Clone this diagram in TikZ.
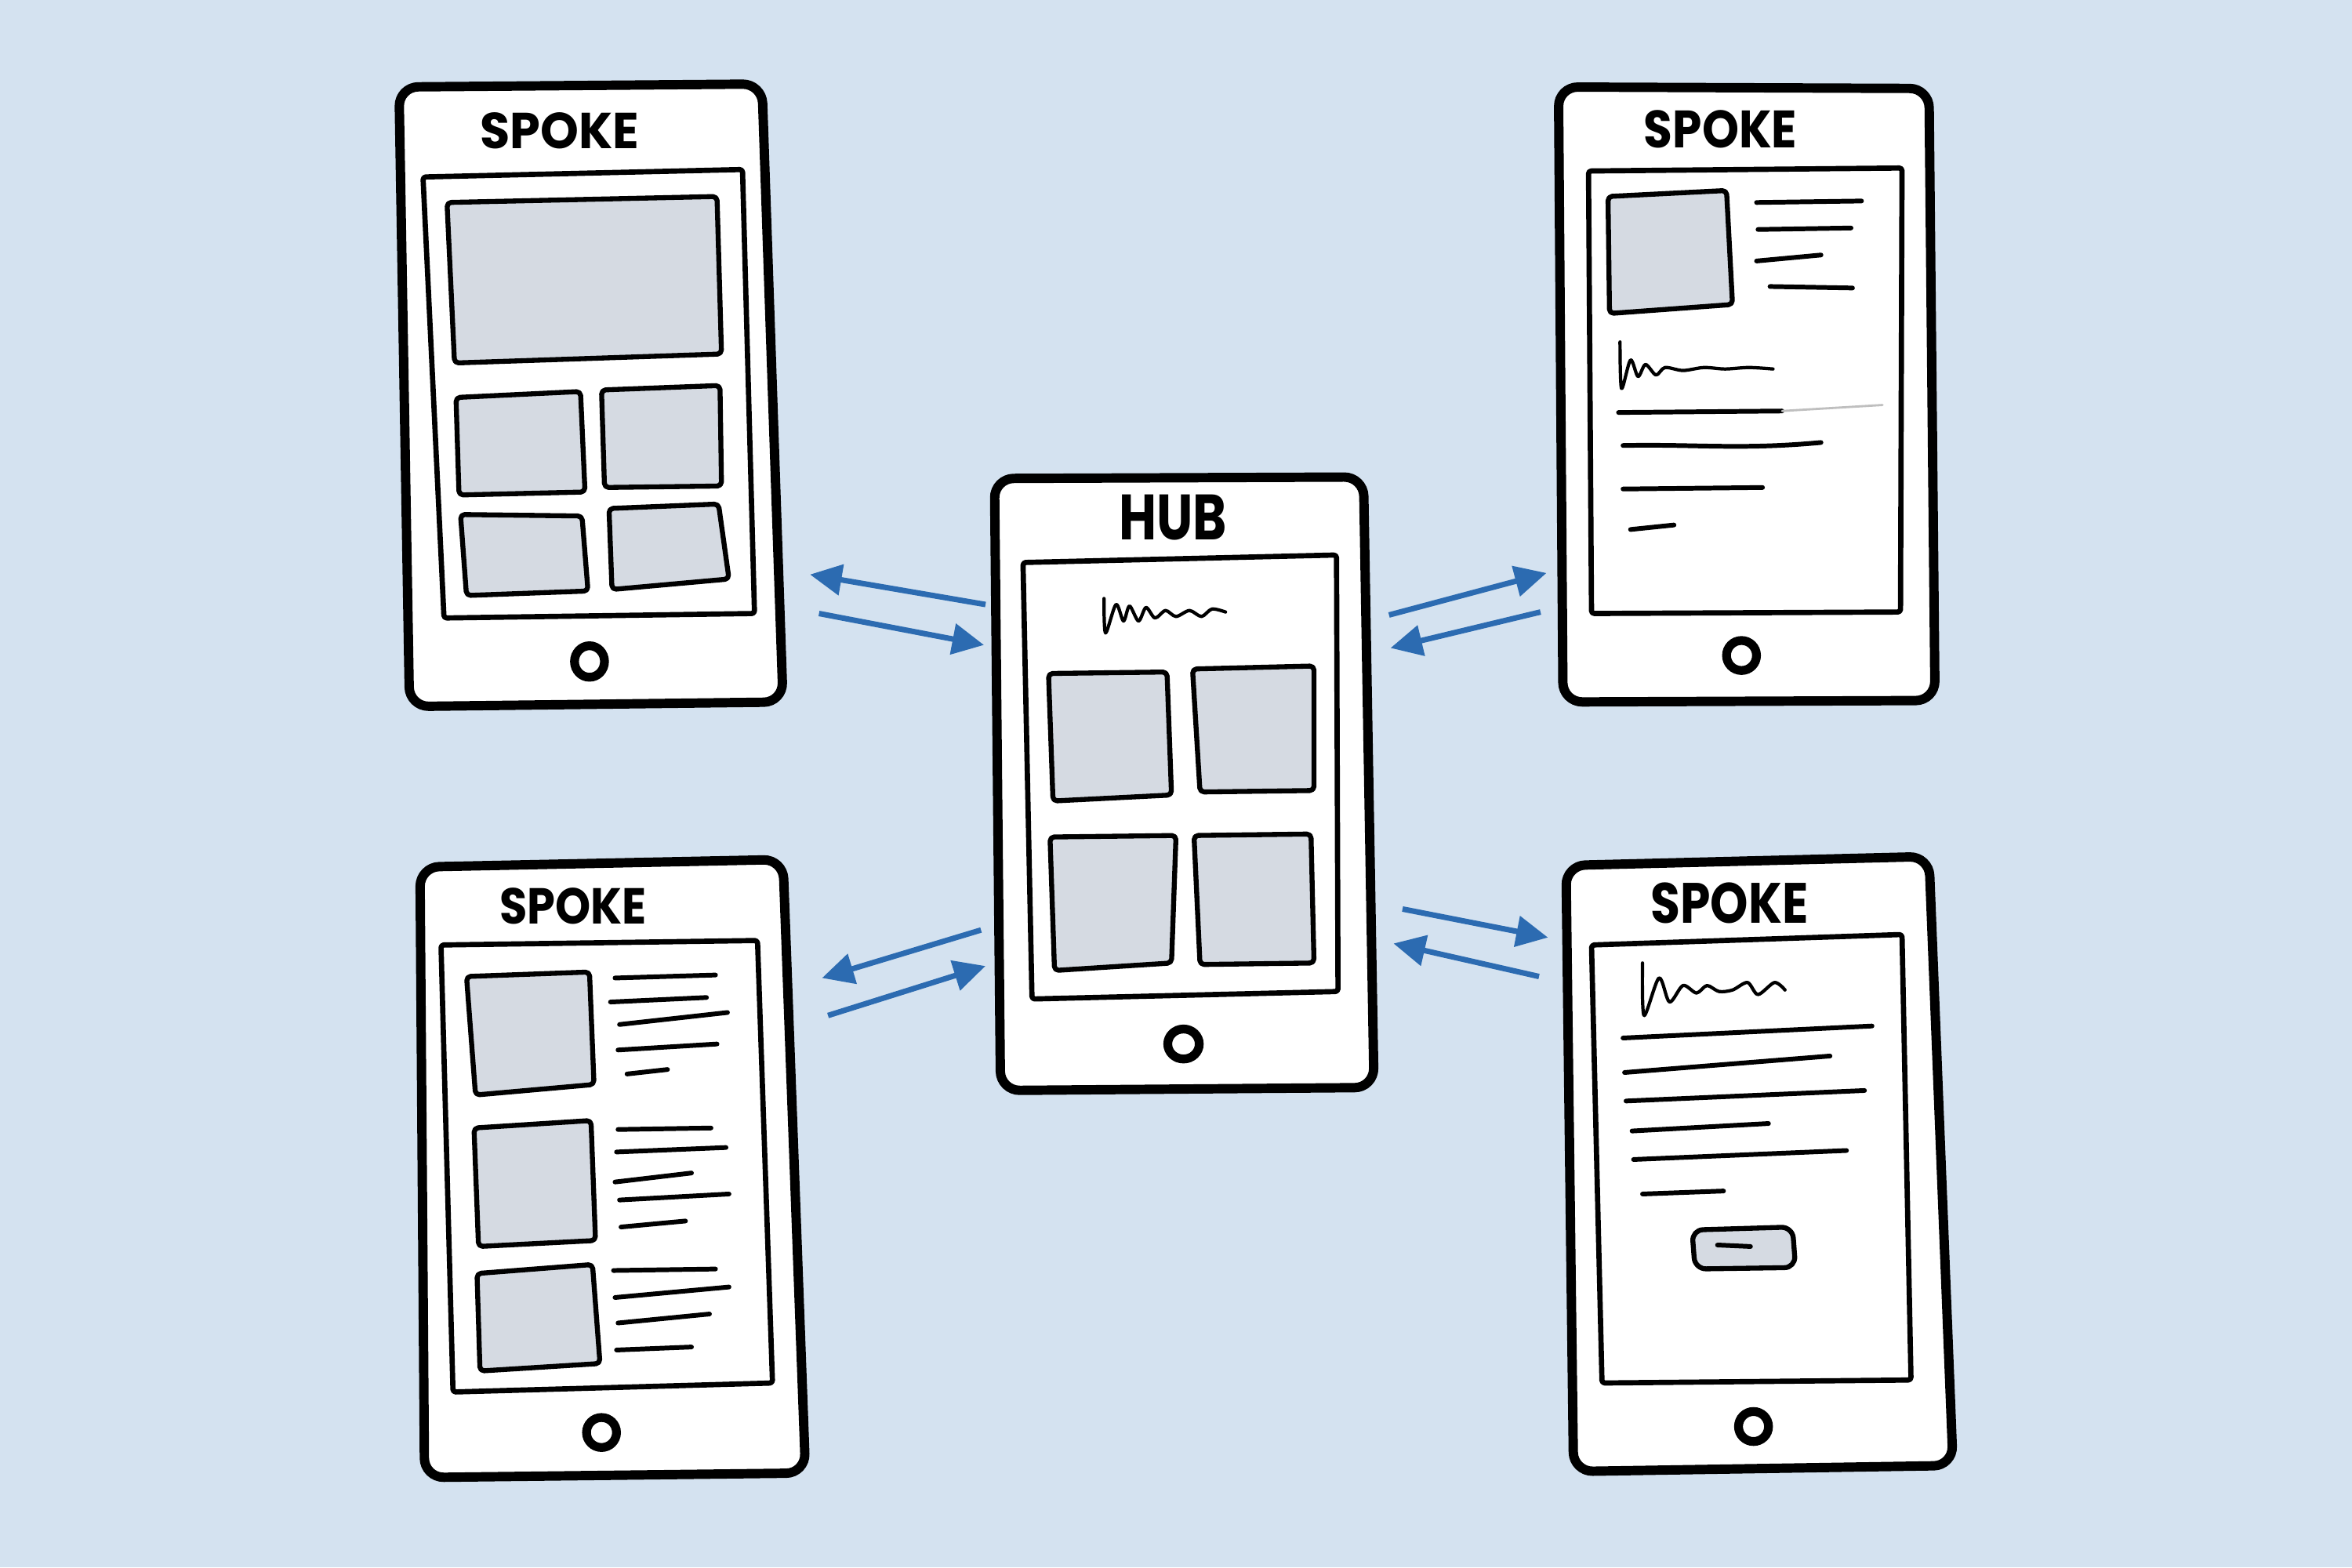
\documentclass[tikz,border=0pt]{standalone}
\usepackage{fontspec}
\usepackage{graphicx}
\usetikzlibrary{arrows.meta}
\newfontfamily\markerfont{Poppins}
\newlength\upx
\setlength\upx{0.019133cm}
\definecolor{paper}{RGB}{212,226,240}
\definecolor{tilegray}{RGB}{213,218,226}
\definecolor{flow}{RGB}{44,107,177}

\tikzset{
  frame/.style={draw=black, fill=white, line width=3.4pt, line join=round, rounded corners=7pt},
  screen/.style={draw=black, fill=white, line width=1.9pt, line join=round, rounded corners=1pt},
  tile/.style={draw=black, fill=tilegray, line width=1.8pt, line join=round, rounded corners=1.5pt},
  textline/.style={draw=black, line width=1.7pt, line cap=round},
  scribble/.style={draw=black, line width=1.2pt, line cap=round, line join=round},
  homekey/.style={draw=black, line width=3.2pt},
  title/.style={inner sep=0pt, font=\markerfont\bfseries},
  flowarrow/.style={draw=flow, line width=2pt, -{Triangle[length=11.5pt,width=11pt]}},
}

\begin{document}
\begin{tikzpicture}[x=0.019133cm, y=-0.019133cm]
\fill[paper] (0,0) rectangle (1568,1045);
\useasboundingbox (0,0) rectangle (1568,1045);

% ---------- hub ----------
\draw[frame] (663,319) -- (909,318) -- (916,725) -- (667,727) -- cycle;
\node[title] (hub-title) at (782,345) {\resizebox{72\upx}{30\upx}{HUB}};
\draw[screen] (682,375) -- (891,370) -- (892,661) -- (688,666) -- cycle;
\draw[scribble] plot[smooth, tension=0.5] coordinates {(736,399) (737,422) (744,403) (749,414) (753,404) (759,414) (764,405) (770,412) (777,407) (784,411) (793,407) (801,411) (808,406) (817,408)};
\draw[tile] (699,449) -- (778,448) -- (781,530) -- (702,534) -- cycle;
\draw[tile] (795,446) -- (876,444) -- (876,527) -- (800,528) -- cycle;
\draw[tile] (700,558) -- (784,557) -- (781,642) -- (703,647) -- cycle;
\draw[tile] (796,557) -- (874,556) -- (876,642) -- (800,643) -- cycle;
\draw[homekey] (789,696) ellipse [x radius=10.5, y radius=10];
\coordinate (hub-w1) at (657,403);
\coordinate (hub-w2) at (656,430);
\coordinate (hub-e1) at (926,410);
\coordinate (hub-e2) at (927,432);
\coordinate (hub-w3) at (654,620);
\coordinate (hub-w4) at (657,644);
\coordinate (hub-e3) at (935,606);
\coordinate (hub-e4) at (929,629);

% ---------- spoke, top left: gallery ----------
\draw[frame] (266,58) -- (508,56) -- (522,468) -- (273,471) -- cycle;
\node[title] (tl-title) at (373,87) {\resizebox{106\upx}{24\upx}{SPOKE}};
\draw[screen] (282,118) -- (495,113) -- (503,409) -- (296,412) -- cycle;
\draw[tile] (298,135) -- (478,131) -- (481,236) -- (303,242) -- cycle;
\draw[tile] (304,265) -- (387,261) -- (390,328) -- (306,330) -- cycle;
\draw[tile] (401,260) -- (480,257) -- (481,324) -- (403,325) -- cycle;
\draw[tile] (307,343) -- (388,344) -- (392,394) -- (311,397) -- cycle;
\draw[tile] (406,339) -- (479,336) -- (486,386) -- (408,393) -- cycle;
\draw[homekey] (393,441) ellipse [x radius=10, y radius=10.5];
\coordinate (tl-in) at (540,383);
\coordinate (tl-out) at (546,409);

% ---------- spoke, top right: article ----------
\draw[frame] (1039,58) -- (1286,59) -- (1290,467) -- (1042,468) -- cycle;
\node[title] (tr-title) at (1147,86) {\resizebox{102\upx}{25\upx}{SPOKE}};
\draw[screen] (1059,114) -- (1268,112) -- (1267,408) -- (1061,409) -- cycle;
\draw[tile] (1072,131) -- (1151,127) -- (1155,203) -- (1073,209) -- cycle;
\draw[textline] (1171,135) -- (1241,134);
\draw[textline] (1172,153) -- (1234,152);
\draw[textline] (1171,174) -- (1214,170);
\draw[textline] (1180,191) -- (1235,192);
\draw[scribble] plot[smooth, tension=0.5] coordinates {(1080,228) (1081,259) (1087,240) (1092,251) (1097,243) (1104,250) (1110,245) (1122,247) (1136,245) (1150,246) (1166,245) (1182,246)};
\draw[textline] (1079,275) -- (1188,274);
\draw[black!25, line width=0.8pt, line cap=round] (1188,274) -- (1255,270);
\draw[textline] (1082,297) .. controls (1130,296) and (1160,300) .. (1214,295);
\draw[textline] (1082,326) -- (1175,325);
\draw[textline] (1087,353) -- (1116,350);
\draw[homekey] (1161,437) ellipse [x radius=10, y radius=10];
\coordinate (tr-in) at (1031,382);
\coordinate (tr-out) at (1027,408);

% ---------- spoke, bottom left: list ----------
\draw[frame] (280,578) -- (522,573) -- (537,982) -- (283,985) -- cycle;
\node[title] (bl-title) at (382,604) {\resizebox{98\upx}{24\upx}{SPOKE}};
\draw[screen] (294,630) -- (505,627) -- (515,922) -- (302,928) -- cycle;
\draw[tile] (311,651) -- (393,648) -- (396,723) -- (317,730) -- cycle;
\draw[tile] (316,752) -- (394,747) -- (397,827) -- (319,831) -- cycle;
\draw[tile] (318,849) -- (395,843) -- (400,909) -- (320,914) -- cycle;
\draw[textline] (410,652) -- (477,650);
\draw[textline] (407,668) -- (471,665);
\draw[textline] (413,683) -- (485,675);
\draw[textline] (412,700) -- (478,696);
\draw[textline] (418,716) -- (445,713);
\draw[textline] (412,753) -- (474,752);
\draw[textline] (411,768) -- (484,765);
\draw[textline] (410,788) -- (461,782);
\draw[textline] (413,800) -- (486,796);
\draw[textline] (414,818) -- (457,814);
\draw[textline] (409,847) -- (477,846);
\draw[textline] (410,865) -- (486,858);
\draw[textline] (412,882) -- (473,876);
\draw[textline] (411,900) -- (461,898);
\draw[homekey] (401,955) ellipse [x radius=10, y radius=10];
\coordinate (bl-in) at (548,652);
\coordinate (bl-out) at (552,677);

% ---------- spoke, bottom right: form ----------
\draw[frame] (1044,577) -- (1286,571) -- (1302,977) -- (1049,981) -- cycle;
\node[title] (br-title) at (1153,602) {\resizebox{105\upx}{27\upx}{SPOKE}};
\draw[screen] (1061,630) -- (1268,623) -- (1274,920) -- (1068,922) -- cycle;
\draw[scribble] plot[smooth, tension=0.5] coordinates {(1095,642) (1096,677) (1106,652) (1113,668) (1122,657) (1131,662) (1138,657) (1146,661) (1155,660) (1165,655) (1172,663) (1183,655) (1190,660)};
\draw[textline] (1082,692) -- (1248,684);
\draw[textline] (1083,715) -- (1220,704);
\draw[textline] (1084,734) -- (1243,727);
\draw[textline] (1088,754) -- (1179,749);
\draw[textline] (1089,773) -- (1231,767);
\draw[textline] (1095,796) -- (1149,794);
\draw[tile, rounded corners=4pt] (1128,820) -- (1195,818) -- (1197,845) -- (1130,846) -- cycle;
\draw[textline] (1145,830) -- (1167,831);
\draw[homekey] (1169,951) ellipse [x radius=10, y radius=10];
\coordinate (br-in) at (1032,625);
\coordinate (br-out) at (1026,651);

% ---------- navigation between hub and spokes ----------
\draw[flowarrow] (hub-w1) -- (tl-in);
\draw[flowarrow] (tl-out) -- (hub-w2);
\draw[flowarrow] (hub-e1) -- (tr-in);
\draw[flowarrow] (tr-out) -- (hub-e2);
\draw[flowarrow] (hub-w3) -- (bl-in);
\draw[flowarrow] (bl-out) -- (hub-w4);
\draw[flowarrow] (hub-e3) -- (br-in);
\draw[flowarrow] (br-out) -- (hub-e4);
\end{tikzpicture}
\end{document}
